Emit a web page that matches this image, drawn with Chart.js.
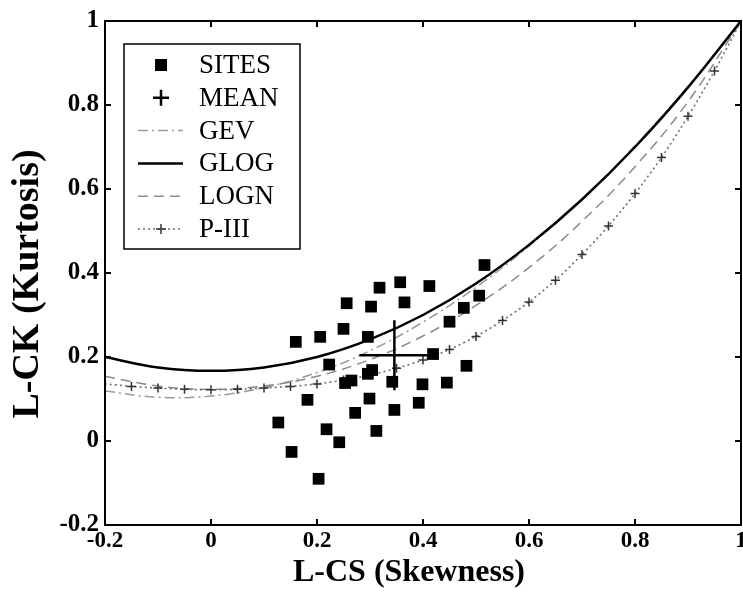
<!DOCTYPE html>
<html><head><meta charset="utf-8">
<script src="https://cdn.jsdelivr.net/npm/chart.js@4/dist/chart.umd.min.js"></script>
<style>html,body{margin:0;padding:0;background:#fff;overflow:hidden;}</style>
</head><body>
<canvas id="c" width="743" height="595"></canvas>
<script>
// ---- data ----
const xTickLabels = ['-0.2','0','0.2','0.4','0.6','0.8','1'];
const yTickLabels = ['-0.2','0','0.2','0.4','0.6','0.8','1'];

const siteLCS = [0.516,0.357,0.318,0.412,0.256,0.302,0.365,0.506,0.477,0.450,0.250,0.206,0.160,0.296,0.419,0.223,0.296,0.304,0.265,0.253,0.342,0.482,0.399,0.445,0.182,0.299,0.272,0.346,0.392,0.127,0.218,0.312,0.242,0.152,0.203];
const siteLCK = [0.419,0.378,0.365,0.369,0.328,0.320,0.330,0.346,0.317,0.284,0.267,0.248,0.236,0.248,0.207,0.182,0.160,0.169,0.144,0.138,0.141,0.179,0.135,0.139,0.098,0.101,0.067,0.074,0.091,0.044,0.028,0.024,-0.003,-0.026,-0.090];

const meanLCS = [0.346];
const meanLCK = [0.204];

const curveLCS = [-0.2,-0.1,0,0.1,0.2,0.3,0.4,0.5,0.6,0.7,0.8,0.9,1.0];
const gevLCK  = [0.119,0.104,0.107,0.127,0.163,0.215,0.283,0.366,0.464,0.576,0.703,0.844,1.0];
const glogLCK = [0.200,0.175,0.167,0.175,0.200,0.242,0.300,0.375,0.467,0.575,0.700,0.842,1.0];
const lognLCK = [0.154,0.131,0.123,0.131,0.154,0.194,0.250,0.323,0.413,0.523,0.653,0.808,1.0];

const pe3LCS = [-0.2,-0.15,-0.1,-0.05,0,0.05,0.1,0.15,0.2,0.25,0.3,0.35,0.4,0.45,0.5,0.55,0.6,0.65,0.7,0.75,0.8,0.85,0.9,0.95,1.0];
const pe3LCK = [0.136,0.130,0.126,0.123,0.122,0.123,0.126,0.130,0.136,0.145,0.157,0.173,0.193,0.218,0.249,0.287,0.331,0.383,0.444,0.512,0.589,0.675,0.773,0.881,1.0];

const legendLabels = ['SITES','MEAN','GEV','GLOG','LOGN','P-III'];
const xTitle = 'L-CS (Skewness)';
const yTitle = 'L-CK (Kurtosis)';

const pts = (xs, ys) => xs.map((x, i) => ({x: x, y: ys[i]}));

const FAMILY = "'Liberation Serif','Times New Roman',serif";
Chart.defaults.font.family = FAMILY;
Chart.defaults.color = '#000';

const datasets = [
  {label: legendLabels[0], data: pts(siteLCS, siteLCK), pointStyle: 'rect', pointRadius: 8.3,
   backgroundColor: '#000', borderColor: '#000', borderWidth: 0, showLine: false, order: 1},
  {label: legendLabels[1], data: pts(meanLCS, meanLCK), pointStyle: 'cross', pointRadius: 35,
   borderColor: '#000', borderWidth: 2.5, showLine: false, order: 0},
  {label: legendLabels[2], data: pts(curveLCS, gevLCK), showLine: true, pointRadius: 0,
   borderColor: '#9a9a9a', borderWidth: 1.5, borderDash: [10,4,2,4], tension: 0.4, order: 5},
  {label: legendLabels[3], data: pts(curveLCS, glogLCK), showLine: true, pointRadius: 0,
   borderColor: '#000', borderWidth: 2.5, tension: 0.4, order: 2},
  {label: legendLabels[4], data: pts(curveLCS, lognLCK), showLine: true, pointRadius: 0,
   borderColor: '#8a8a8a', borderWidth: 1.5, borderDash: [10,6], tension: 0.4, order: 4},
  {label: legendLabels[5], data: pts(pe3LCS, pe3LCK), showLine: true,
   pointStyle: 'cross', pointRadius: c => (c.dataIndex === 0 || c.dataIndex === pe3LCS.length - 1) ? 0 : 4.5,
   pointBorderColor: '#333', pointBorderWidth: 1.5,
   borderColor: '#707070', borderWidth: 1.6, borderDash: [2,3], tension: 0.3, order: 3}
];

const frame = {
  id: 'frame',
  afterDatasetsDraw(chart) {
    const ctx = chart.ctx, a = chart.chartArea;
    const xs = chart.scales.x, ys = chart.scales.y;
    ctx.save();
    ctx.strokeStyle = '#000';
    ctx.lineWidth = 2;
    ctx.strokeRect(a.left, a.top, a.right - a.left, a.bottom - a.top);
    const L = 6;
    xs.ticks.forEach(t => {
      const p = xs.getPixelForValue(t.value);
      ctx.beginPath();
      ctx.moveTo(p, a.bottom); ctx.lineTo(p, a.bottom - L);
      ctx.moveTo(p, a.top); ctx.lineTo(p, a.top + L);
      ctx.stroke();
    });
    ys.ticks.forEach(t => {
      const p = ys.getPixelForValue(t.value);
      ctx.beginPath();
      ctx.moveTo(a.left, p); ctx.lineTo(a.left + L, p);
      ctx.moveTo(a.right, p); ctx.lineTo(a.right - L, p);
      ctx.stroke();
    });
    ctx.restore();
  },
  afterDraw(chart) {
    const ctx = chart.ctx, a = chart.chartArea;
    const ds = chart.data.datasets;
    // axis titles
    ctx.save();
    ctx.fillStyle = '#000';
    ctx.textAlign = 'center';
    ctx.textBaseline = 'middle';
    ctx.font = "bold 32px " + FAMILY;
    ctx.fillText(xTitle, a.left + 304, chart.height - 22);
    ctx.translate(28, a.top + 263);
    ctx.rotate(-Math.PI / 2);
    ctx.font = "bold 38px " + FAMILY;
    ctx.fillText(yTitle, 0, 0);
    ctx.restore();
    // legend
    const bx = a.left + 19, by = a.top + 23, bw = 176, bh = 205;
    ctx.save();
    ctx.fillStyle = '#fff';
    ctx.fillRect(bx, by, bw, bh);
    ctx.strokeStyle = '#000';
    ctx.lineWidth = 1.5;
    ctx.strokeRect(bx, by, bw, bh);
    const sx = bx + 37, l0 = bx + 14, l1 = bx + 59, tx = bx + 75;
    ctx.font = "27px " + FAMILY;
    ctx.textBaseline = 'middle';
    ctx.textAlign = 'left';
    for (let i = 0; i < legendLabels.length; i++) {
      const y = by + 21 + i * 32.8;
      const d = ds[i];
      ctx.save();
      if (i === 0) {
        ctx.fillStyle = '#000';
        ctx.fillRect(sx - 6, y - 6, 12, 12);
      } else if (i === 1) {
        ctx.strokeStyle = '#000'; ctx.lineWidth = 2.5;
        ctx.beginPath();
        ctx.moveTo(sx - 8, y); ctx.lineTo(sx + 8, y);
        ctx.moveTo(sx, y - 8); ctx.lineTo(sx, y + 8);
        ctx.stroke();
      } else {
        ctx.strokeStyle = d.borderColor;
        ctx.lineWidth = d.borderWidth;
        ctx.setLineDash(d.borderDash || []);
        ctx.beginPath();
        ctx.moveTo(l0, y); ctx.lineTo(l1, y);
        ctx.stroke();
        if (i === 5) {
          ctx.setLineDash([]);
          ctx.strokeStyle = '#333'; ctx.lineWidth = 1.5;
          ctx.beginPath();
          ctx.moveTo(sx - 5, y); ctx.lineTo(sx + 5, y);
          ctx.moveTo(sx, y - 5); ctx.lineTo(sx, y + 5);
          ctx.stroke();
        }
      }
      ctx.restore();
      ctx.fillStyle = '#000';
      ctx.fillText(legendLabels[i], tx, y + 1);
    }
    ctx.restore();
  }
};

new Chart(document.getElementById('c'), {
  type: 'scatter',
  data: {datasets: datasets},
  options: {
    responsive: false,
    animation: false,
    devicePixelRatio: 1,
    layout: {autoPadding: false, padding: {top: 21, right: 2, left: 0, bottom: 0}},
    plugins: {legend: {display: false}, tooltip: {enabled: false}},
    scales: {
      x: {
        type: 'linear', min: -0.2, max: 1,
        grid: {display: false, drawTicks: false},
        border: {display: false},
        ticks: {stepSize: 0.2, padding: 2, color: '#000',
                font: {size: 23, weight: 'bold'},
                callback: (v, i) => xTickLabels[i]},
        title: {display: false, text: xTitle},
        afterFit: s => { s.height = 70; s.paddingLeft = 0; s.paddingRight = 0; }
      },
      y: {
        type: 'linear', min: -0.2, max: 1,
        grid: {display: false, drawTicks: false},
        border: {display: false},
        ticks: {stepSize: 0.2, padding: 6, color: '#000',
                font: {size: 25, weight: 'bold'},
                callback: (v, i) => yTickLabels[i]},
        title: {display: false, text: yTitle},
        afterFit: s => { s.width = 105; s.paddingTop = 0; s.paddingBottom = 0; }
      }
    }
  },
  plugins: [frame]
});
</script>
</body></html>
